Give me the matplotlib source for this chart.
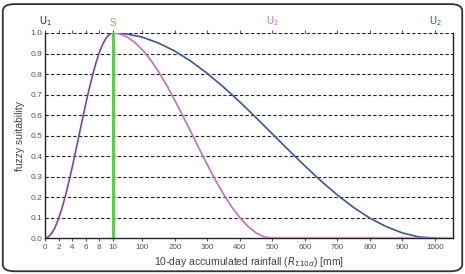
import numpy as np
import matplotlib
matplotlib.use("Agg")
import matplotlib.pyplot as plt
from matplotlib.patches import FancyBboxPatch

plt.rcParams["font.family"] = ["Liberation Sans", "DejaVu Sans"]

# rising limb (shared by both curves), 0-10 mm
x_rise = [0, 0.5, 1, 1.5, 2, 2.5, 3, 3.5, 4, 4.5, 5, 5.5, 6, 6.5, 7, 7.5, 8, 8.5, 9, 9.5, 10]
y_rise = [0.0, 0.006, 0.024, 0.054, 0.095, 0.146, 0.206, 0.273, 0.345, 0.422, 0.50,
          0.578, 0.655, 0.727, 0.794, 0.854, 0.905, 0.946, 0.976, 0.994, 1.0]

# falling limb to U2 = 500 mm
x_u500 = [10, 25, 50, 75, 100, 125, 150, 175, 200, 225, 250, 275, 300, 325, 350,
          375, 400, 425, 450, 475, 500, 1055]
y_u500 = [1.0, 0.998, 0.984, 0.957, 0.919, 0.870, 0.812, 0.746, 0.672, 0.596, 0.516,
          0.436, 0.358, 0.283, 0.214, 0.152, 0.100, 0.057, 0.025, 0.006, 0.0, 0.0]

# falling limb to U2 = 1000 mm
x_u1000 = [10, 50, 100, 150, 200, 250, 300, 350, 400, 450, 500, 550, 600, 650, 700,
           750, 800, 850, 900, 950, 1000]
y_u1000 = [1.0, 0.996, 0.980, 0.951, 0.912, 0.862, 0.803, 0.736, 0.664, 0.587, 0.508,
           0.429, 0.352, 0.278, 0.210, 0.149, 0.097, 0.056, 0.025, 0.006, 0.0]

x_ticks = [0, 2, 4, 6, 8, 10, 100, 200, 300, 400, 500, 600, 700, 800, 900, 1000]
y_ticks = [0.0, 0.1, 0.2, 0.3, 0.4, 0.5, 0.6, 0.7, 0.8, 0.9, 1.0]

C_RISE = "#7a44a8"
C_500 = "#c66cc4"
C_1000 = "#3b55a3"
C_S = "#5ecb4c"

R = 0.0479  # compression of the 10-1000 mm segment


def fwd(x):
    x = np.asarray(x, dtype=float)
    return np.where(x <= 10, x, 10 + (x - 10) * R)


def inv(u):
    u = np.asarray(u, dtype=float)
    return np.where(u <= 10, u, 10 + (u - 10) / R)


fig = plt.figure(figsize=(4.65, 2.74), dpi=100)
fig.patches.append(FancyBboxPatch((0.006, 0.01), 0.988, 0.975, boxstyle="round,pad=0,rounding_size=0.025",
                                  transform=fig.transFigure, fill=False, ec="#333333", lw=1.3))
ax = fig.add_axes([0.0968, 0.131, 0.8772, 0.7486])
ax.set_xscale("function", functions=(fwd, inv))

for y in y_ticks[1:]:
    ax.axhline(y, color="#222222", lw=0.8, ls=(0, (3, 2)), zorder=1)

ax.plot(x_u1000, y_u1000, color=C_1000, lw=1.2, zorder=3)
ax.plot(x_u500, y_u500, color=C_500, lw=1.2, zorder=3)
ax.plot(x_rise, y_rise, color=C_RISE, lw=1.2, zorder=4)
ax.axvline(10, color=C_S, lw=2.2, zorder=5)

ax.set_xlim(0, 1055)
ax.set_ylim(0, 1.0)
ax.set_xticks(x_ticks)
ax.set_xticklabels([str(v) for v in x_ticks])
ax.set_yticks(y_ticks)
ax.set_yticklabels([f"{v:.1f}" for v in y_ticks])
ax.tick_params(axis="x", labelsize=5.8, colors="#555555", length=2, pad=2, top=True)
ax.tick_params(axis="y", labelsize=6, colors="#555555", length=0, pad=2)
ax.spines["top"].set_visible(False)
for s in ["left", "right", "bottom"]:
    ax.spines[s].set_color("#222222")
    ax.spines[s].set_linewidth(1.0)

ax.set_ylabel("fuzzy suitability", fontsize=7.5, color="#444444", labelpad=4)
ax.set_xlabel(r"10-day accumulated rainfall ($R_{\Sigma 10d}$) [mm]", fontsize=7.5,
              color="#444444", labelpad=3)

ax.text(0, 1.025, r"U$_1$", color="#222222", fontsize=7, ha="center", va="bottom",
        transform=ax.get_xaxis_transform())
ax.text(10, 1.025, "S", color=C_S, fontsize=7, ha="center", va="bottom",
        transform=ax.get_xaxis_transform())
ax.text(500, 1.025, r"U$_2$", color=C_500, fontsize=7, ha="center", va="bottom",
        transform=ax.get_xaxis_transform())
ax.text(1000, 1.025, r"U$_2$", color=C_1000, fontsize=7, ha="center", va="bottom",
        transform=ax.get_xaxis_transform())

fig.savefig("out.png", dpi=100)
